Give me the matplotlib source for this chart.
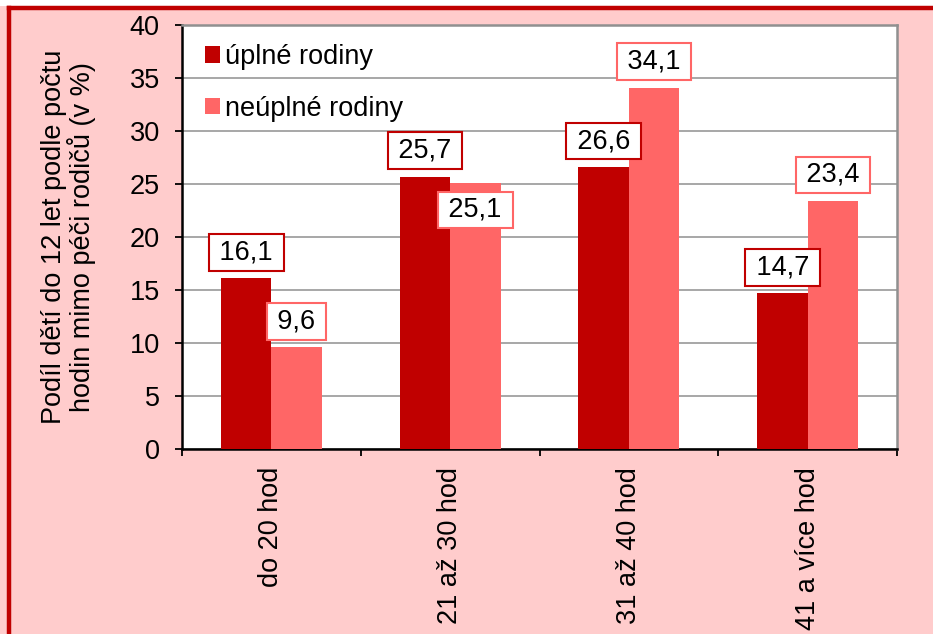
import matplotlib
matplotlib.use("Agg")
import matplotlib.pyplot as plt
import numpy as np
from matplotlib.lines import Line2D
from matplotlib.patches import Rectangle

categories = ["do 20 hod", "21 až 30 hod", "31 až 40 hod", "41 a více hod"]
uplne = [16.1, 25.7, 26.6, 14.7]
neuplne = [9.6, 25.1, 34.1, 23.4]
series_names = ["úplné rodiny", "neúplné rodiny"]
yticks = [0, 5, 10, 15, 20, 25, 30, 35, 40]
ylabel = "Podíl dětí do 12 let podle počtu\nhodin mimo péči rodičů (v %)"

DARK = "#C00000"
LIGHT = "#FF6666"
PINK = "#FFCCCC"
FS = 19.5

plt.rcParams['font.family'] = ['Liberation Sans', 'DejaVu Sans']

W, H = 933, 634
fig = plt.figure(figsize=(W / 100, H / 100), dpi=100, facecolor=PINK)

# white strip on top and red frame lines
fig.patches.append(Rectangle((0, 1 - 6 / H), 1, 6 / H, transform=fig.transFigure,
                             facecolor="white", edgecolor="none", zorder=0))
fig.lines.append(Line2D([9 / W, 1], [1 - 7.5 / H, 1 - 7.5 / H], transform=fig.transFigure,
                        color=DARK, lw=3.2, zorder=1))
fig.lines.append(Line2D([9 / W, 9 / W], [0, 1 - 7.5 / H], transform=fig.transFigure,
                        color=DARK, lw=3.2, zorder=1))

ax = fig.add_axes([182 / W, (H - 449) / H, 715 / W, 424 / H])
ax.set_facecolor("white")

x = np.arange(len(categories))
bw = 0.2825
b1 = ax.bar(x - bw / 2, uplne, width=bw, color=DARK, label=series_names[0], zorder=3)
b2 = ax.bar(x + bw / 2, neuplne, width=bw, color=LIGHT, label=series_names[1], zorder=3)

ax.set_xlim(-0.5, len(categories) - 0.5)
ax.set_ylim(0, 40)
ax.set_yticks(yticks)
ax.set_yticklabels([str(t) for t in yticks], fontsize=FS)
ax.yaxis.grid(True, color="#A0A0A0", lw=1.3, zorder=1)
ax.set_axisbelow(True)

ax.set_xticks(np.arange(len(categories) + 1) - 0.5)
ax.set_xticklabels([])
ax.set_xticks(x, minor=True)
ax.set_xticklabels(categories, minor=True, rotation=90, fontsize=FS, va="top", ha="center")
ax.tick_params(axis="x", which="minor", length=0, pad=13)
ax.tick_params(axis="x", which="major", direction="out", length=5, width=1.3, color="black")
ax.tick_params(axis="y", direction="out", length=5, width=1.3, pad=11)

for s in ["left", "bottom"]:
    ax.spines[s].set_color("black")
    ax.spines[s].set_linewidth(1.8)
for s in ["top", "right"]:
    ax.spines[s].set_color("#909090")
    ax.spines[s].set_linewidth(1.8)

ax.set_ylabel(ylabel, fontsize=FS, labelpad=24, linespacing=1.03)

TS = "\u2009"

def label(bars, vals, color, offsets):
    for rect, v, off in zip(bars, vals, offsets):
        cx = rect.get_x() + rect.get_width() / 2
        ax.annotate(TS + f"{v:.1f}".replace(".", ",") + TS, xy=(cx, v),
                    xytext=(0, off), textcoords="offset pixels",
                    ha="center", va="center", fontsize=FS, zorder=5,
                    bbox=dict(boxstyle="square,pad=0.2", facecolor="white",
                              edgecolor=color, lw=1.5))

label(b1, uplne, DARK, [26, 26, 26, 26])
label(b2, neuplne, LIGHT, [26, -27, 26, 26])

leg = ax.legend(loc="upper left", bbox_to_anchor=(0.032, 0.955), frameon=False,
                fontsize=FS, handlelength=0.55, handleheight=0.55,
                handletextpad=0.2, labelspacing=0.95, borderpad=0, borderaxespad=0)

fig.savefig("out.png", dpi=100, facecolor=PINK)
